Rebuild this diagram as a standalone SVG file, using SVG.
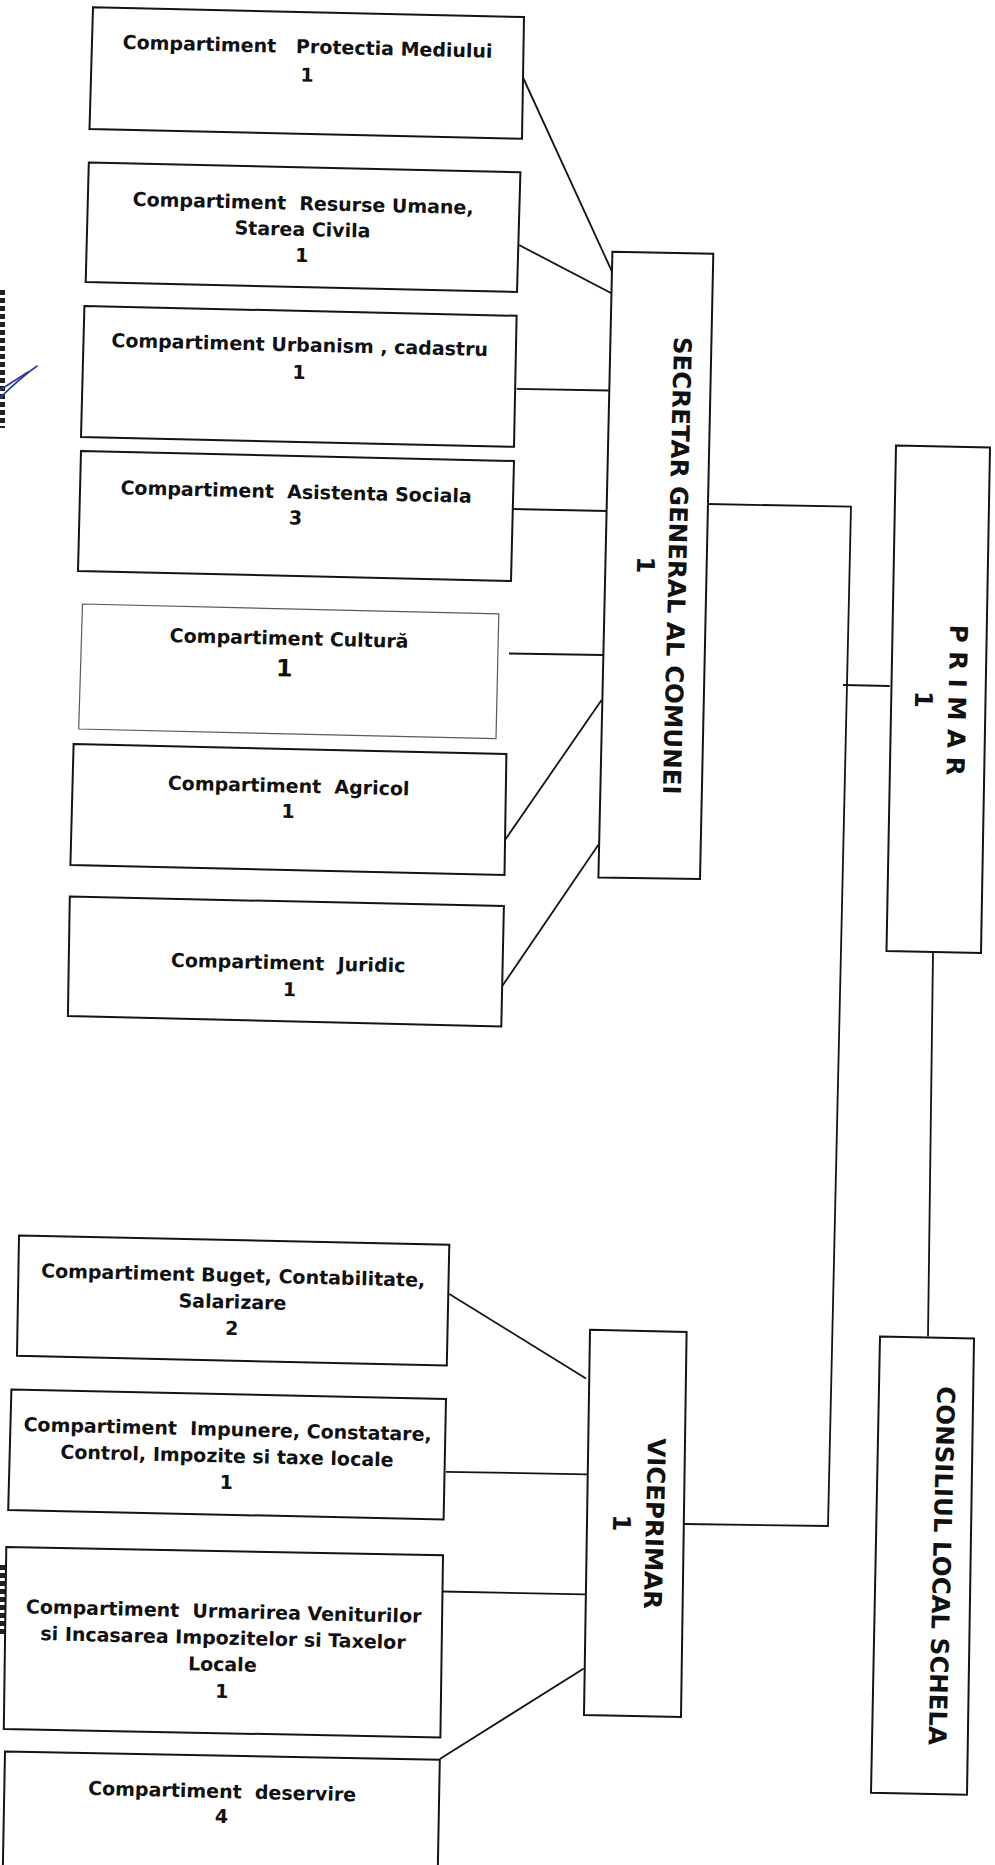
<svg xmlns="http://www.w3.org/2000/svg" width="995" height="1865" viewBox="0 0 995 1865">
<style>
.box{fill:#fff;stroke:#141414;stroke-width:2;stroke-linejoin:miter}
.thin{stroke:#5a5a5a;stroke-width:1.2}
.conn line,.conn polyline{stroke:#141414;stroke-width:1.8;fill:none}
.t{font-family:"DejaVu Sans","Verdana",sans-serif;font-weight:bold;font-size:19px;text-anchor:middle;fill:#111;white-space:pre}
.v{font-size:24.5px}
.mark{stroke:#222;stroke-width:5;stroke-dasharray:5 3;fill:none}
.ink{stroke:#2b3c9c;stroke-width:1.6;fill:none;stroke-linecap:round}
</style>
<rect width="995" height="1865" fill="#fff"/>
<g id="scan-marks">
<line class="mark" x1="2.5" y1="290" x2="2.5" y2="428"/>
<line class="mark" x1="2.5" y1="1565" x2="2.5" y2="1635"/>
<path class="ink" d="M37,366 Q20,378 0,398"/>
<path class="ink" d="M28,372 Q14,381 0,390"/>
</g>
<g id="connectors" class="conn">
<line x1="523" y1="77.5" x2="612.4" y2="272.5"/>
<line x1="519" y1="245" x2="612.4" y2="293.8"/>
<line x1="516.6" y1="388.8" x2="609" y2="390.5"/>
<line x1="512" y1="509" x2="607" y2="511"/>
<line x1="509" y1="653.5" x2="603" y2="655"/>
<line x1="504.5" y1="840.7" x2="601.6" y2="700"/>
<line x1="502.6" y1="985.6" x2="598.4" y2="844.8"/>
<polyline points="708,504 851,506.7 828,1526 684,1524"/>
<line x1="843" y1="685" x2="889.7" y2="686"/>
<line x1="933" y1="953" x2="928" y2="1336.4"/>
<line x1="449.3" y1="1294" x2="586" y2="1378.4"/>
<line x1="446" y1="1471.8" x2="587" y2="1474.3"/>
<line x1="443" y1="1591.5" x2="585" y2="1594.4"/>
<line x1="583.8" y1="1668.4" x2="439.8" y2="1759"/>
</g>
<g id="protectia">
<polygon class="box" points="93,7.3 524,17.1 522,138.7 89.5,129"/>
<text class="t" transform="rotate(1.4 307.5 53)"><tspan x="307.5" y="53.3">Compartiment   Protectia Mediului</tspan><tspan x="307.5" y="81.6">1</tspan></text>
</g>
<g id="resurse">
<polygon class="box" points="88.8,162.4 520.4,172.2 517,292 85.7,282"/>
<text class="t" transform="rotate(1.4 303 210)"><tspan x="303" y="210">Compartiment  Resurse Umane,</tspan><tspan x="303" y="236">Starea Civila</tspan><tspan x="303" y="262">1</tspan></text>
</g>
<g id="urbanism">
<polygon class="box" points="84.4,306 516.6,315.8 514,446.8 81,437"/>
<text class="t" transform="rotate(1.4 299.5 351.5)"><tspan x="299.5" y="351.5">Compartiment Urbanism , cadastru</tspan><tspan x="299.5" y="379">1</tspan></text>
</g>
<g id="asistenta">
<polygon class="box" points="81,451 514,461 511,581 78,571"/>
<text class="t" transform="rotate(1.4 296 498.5)"><tspan x="296" y="498.5">Compartiment  Asistenta Sociala</tspan><tspan x="296" y="524.5">3</tspan></text>
</g>
<g id="cultura">
<polygon class="box thin" points="82.5,604 498.8,613.9 496,738.7 78.7,729"/>
<text class="t" transform="rotate(1.4 289 645)"><tspan x="289" y="645">Compartiment Cultură</tspan><tspan x="285" y="676.5" style="font-size:24px">1</tspan></text>
</g>
<g id="agricol">
<polygon class="box" points="73.6,744 506.4,754 504.5,875 70.4,865"/>
<text class="t" transform="rotate(1.4 288.5 792.5)"><tspan x="288.5" y="792.5">Compartiment  Agricol</tspan><tspan x="288.5" y="818">1</tspan></text>
</g>
<g id="juridic">
<polygon class="box" points="69.8,896.6 503.9,906 501.3,1026.4 67.9,1016"/>
<text class="t" transform="rotate(1.4 288 969.5)"><tspan x="288" y="969.5">Compartiment  Juridic</tspan><tspan x="290" y="996">1</tspan></text>
</g>
<g id="secretar">
<polygon class="box" points="612.4,251.7 713.3,253.8 700,879 598.4,877.4"/>
<text class="t v" transform="rotate(91.4 668.5 565.5)"><tspan x="668.5" y="565.5">SECRETAR GENERAL AL COMUNEI</tspan><tspan x="668.5" dy="31.5">1</tspan></text>
</g>
<g id="primar">
<polygon class="box" points="896,445.5 990,447.6 981,953 886.5,951"/>
<text class="t v" transform="rotate(91.4 948.5 700)"><tspan x="948.5" y="700">P R I M A R</tspan><tspan x="948.5" dy="33.5">1</tspan></text>
</g>
<g id="buget">
<polygon class="box" points="19,1235.6 449.3,1244.7 446.8,1365.6 17,1355.8"/>
<text class="t" transform="rotate(1.4 233 1282)"><tspan x="233" y="1282">Compartiment Buget, Contabilitate,</tspan><tspan x="233" y="1308.5">Salarizare</tspan><tspan x="233" y="1335">2</tspan></text>
</g>
<g id="impunere">
<polygon class="box" points="11.4,1389.5 446,1399 443.6,1519.5 8.2,1510"/>
<text class="t" transform="rotate(1.4 227.5 1436)"><tspan x="227.5" y="1436">Compartiment  Impunere, Constatare,</tspan><tspan x="227.5" y="1462.5">Control, Impozite si taxe locale</tspan><tspan x="227.5" y="1489">1</tspan></text>
</g>
<g id="urmarirea">
<polygon class="box" points="6.3,1547 443,1555.3 440.4,1737.5 3.8,1729"/>
<text class="t" transform="rotate(1.4 223.5 1618)"><tspan x="223.5" y="1618">Compartiment  Urmarirea Veniturilor</tspan><tspan x="223.5" y="1644.5">si Incasarea Impozitelor si Taxelor</tspan><tspan x="223.5" y="1671">Locale</tspan><tspan x="223.5" y="1698">1</tspan></text>
</g>
<g id="deservire">
<polygon class="box" points="5,1751.5 439.8,1759.8 437.6,1880 2.6,1880"/>
<text class="t" transform="rotate(1.4 222 1798)"><tspan x="222" y="1798">Compartiment  deservire</tspan><tspan x="222" y="1823">4</tspan></text>
</g>
<g id="viceprimar">
<polygon class="box" points="590,1329.8 686.6,1332 681,1717 584,1715"/>
<text class="t v" transform="rotate(91.4 646 1523.5)"><tspan x="646" y="1523.5">VICEPRIMAR</tspan><tspan x="646" dy="33">1</tspan></text>
</g>
<g id="consiliul">
<polygon class="box" points="880,1336.4 974,1338.5 967,1794.7 871,1792.7"/>
<text class="t v" transform="rotate(91.4 933 1565.5)"><tspan x="933" y="1565.5">CONSILIUL LOCAL SCHELA</tspan></text>
</g>
</svg>
